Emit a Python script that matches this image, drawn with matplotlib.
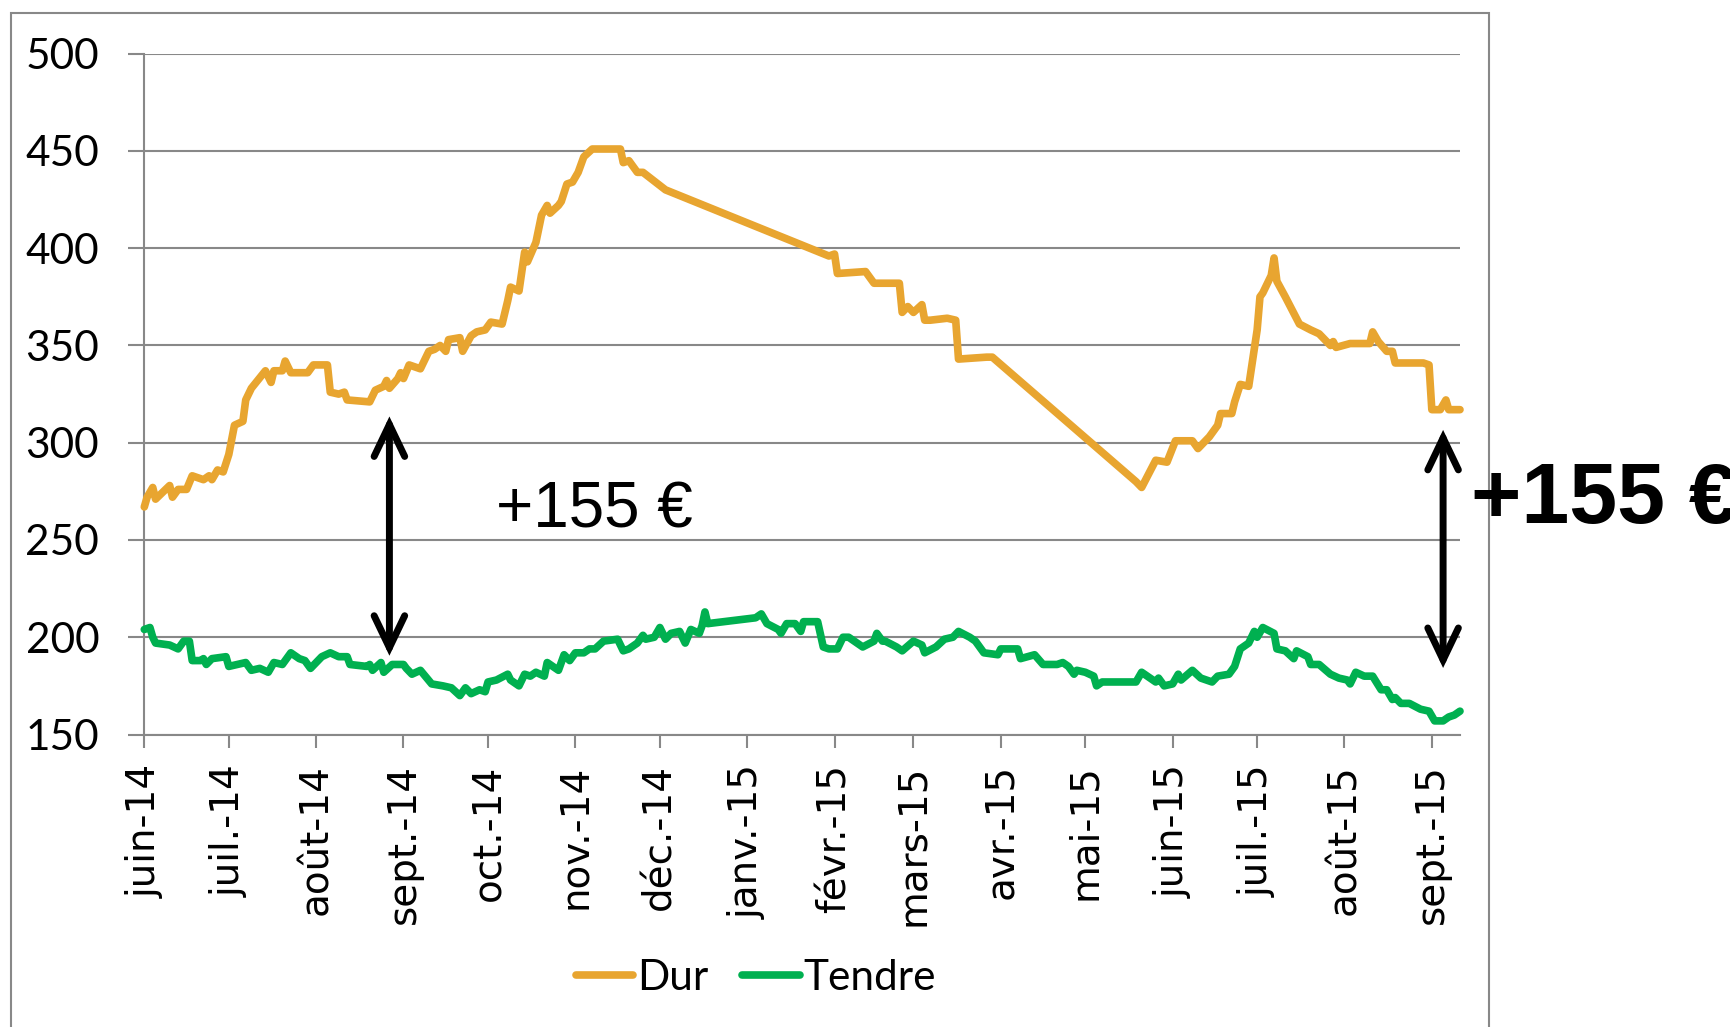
import matplotlib
matplotlib.use("Agg")
import matplotlib.pyplot as plt
from matplotlib.patches import Rectangle
import pandas as pd

# Durum ("Dur") wheat price, EUR/t
dur_dates = [
    "2014-06-01", "2014-06-02", "2014-06-04", "2014-06-05", "2014-06-10", "2014-06-11",
    "2014-06-13", "2014-06-16", "2014-06-18", "2014-06-22", "2014-06-24", "2014-06-25",
    "2014-06-27", "2014-06-29", "2014-07-01", "2014-07-03", "2014-07-06", "2014-07-07",
    "2014-07-09", "2014-07-14", "2014-07-16", "2014-07-17", "2014-07-20", "2014-07-21",
    "2014-07-23", "2014-07-29", "2014-07-31", "2014-08-05", "2014-08-06", "2014-08-09",
    "2014-08-11", "2014-08-12", "2014-08-20", "2014-08-22", "2014-08-25", "2014-08-26",
    "2014-08-27", "2014-08-30", "2014-08-31", "2014-09-01", "2014-09-03", "2014-09-07",
    "2014-09-10", "2014-09-12", "2014-09-14", "2014-09-16", "2014-09-17", "2014-09-21",
    "2014-09-22", "2014-09-25", "2014-09-27", "2014-09-30", "2014-10-02", "2014-10-06",
    "2014-10-08", "2014-10-09", "2014-10-12", "2014-10-14", "2014-10-15", "2014-10-18",
    "2014-10-20", "2014-10-22", "2014-10-23", "2014-10-26", "2014-10-27", "2014-10-29",
    "2014-10-31", "2014-11-02", "2014-11-04", "2014-11-07", "2014-11-17", "2014-11-18",
    "2014-11-20", "2014-11-23", "2014-11-25", "2014-12-03", "2015-01-30", "2015-02-01",
    "2015-02-02", "2015-02-12", "2015-02-15", "2015-02-24", "2015-02-25", "2015-02-27",
    "2015-03-01", "2015-03-04", "2015-03-05", "2015-03-07", "2015-03-13", "2015-03-16",
    "2015-03-17", "2015-03-27", "2015-03-29", "2015-05-19", "2015-05-21", "2015-05-26",
    "2015-05-30", "2015-06-02", "2015-06-08", "2015-06-10", "2015-06-14", "2015-06-17",
    "2015-06-18", "2015-06-22", "2015-06-23", "2015-06-25", "2015-06-28", "2015-07-01",
    "2015-07-02", "2015-07-03", "2015-07-06", "2015-07-07", "2015-07-08", "2015-07-11",
    "2015-07-16", "2015-07-20", "2015-07-23", "2015-07-27", "2015-07-28", "2015-07-29",
    "2015-08-03", "2015-08-10", "2015-08-11", "2015-08-13", "2015-08-16", "2015-08-18",
    "2015-08-19", "2015-08-29", "2015-08-31", "2015-09-01", "2015-09-04", "2015-09-06",
    "2015-09-07", "2015-09-11",
]
dur_values = [
    267, 272, 277, 271, 278, 272,
    276, 276, 283, 281, 283, 281,
    286, 285, 294, 309, 311, 322,
    328, 337, 331, 337, 337, 342,
    336, 336, 340, 340, 326, 325,
    326, 322, 321, 327, 329, 332,
    328, 333, 336, 333, 340, 338,
    347, 348, 350, 347, 353, 354,
    347, 355, 357, 358, 362, 361,
    373, 380, 378, 398, 393, 403,
    417, 422, 418, 422, 424, 433,
    434, 439, 447, 451, 451, 444,
    445, 439, 439, 430, 396, 397,
    387, 388, 382, 382, 367, 370,
    367, 371, 363, 363, 364, 363,
    343, 344, 344, 280, 277, 291,
    290, 301, 301, 297, 303, 309,
    315, 315, 321, 330, 329, 358,
    375, 377, 386, 395, 383, 375,
    361, 358, 356, 350, 352, 349,
    351, 351, 357, 352, 347, 347,
    341, 341, 340, 317, 317, 322,
    317, 317,
]

# Soft ("Tendre") wheat price, EUR/t
tendre_dates = [
    "2014-06-01", "2014-06-03", "2014-06-04", "2014-06-05", "2014-06-10", "2014-06-13",
    "2014-06-15", "2014-06-17", "2014-06-18", "2014-06-21", "2014-06-22", "2014-06-23",
    "2014-06-25", "2014-06-30", "2014-07-01", "2014-07-07", "2014-07-09", "2014-07-12",
    "2014-07-15", "2014-07-17", "2014-07-20", "2014-07-23", "2014-07-26", "2014-07-28",
    "2014-07-30", "2014-08-03", "2014-08-06", "2014-08-09", "2014-08-12", "2014-08-13",
    "2014-08-19", "2014-08-20", "2014-08-21", "2014-08-24", "2014-08-25", "2014-08-28",
    "2014-09-01", "2014-09-02", "2014-09-04", "2014-09-07", "2014-09-11", "2014-09-15",
    "2014-09-18", "2014-09-21", "2014-09-23", "2014-09-25", "2014-09-28", "2014-09-30",
    "2014-10-01", "2014-10-04", "2014-10-08", "2014-10-09", "2014-10-12", "2014-10-14",
    "2014-10-16", "2014-10-18", "2014-10-21", "2014-10-22", "2014-10-26", "2014-10-28",
    "2014-10-30", "2014-11-01", "2014-11-04", "2014-11-06", "2014-11-08", "2014-11-11",
    "2014-11-16", "2014-11-18", "2014-11-20", "2014-11-23", "2014-11-25", "2014-11-26",
    "2014-11-29", "2014-12-01", "2014-12-03", "2014-12-05", "2014-12-08", "2014-12-10",
    "2014-12-12", "2014-12-15", "2014-12-16", "2014-12-17", "2014-12-18", "2015-01-04",
    "2015-01-06", "2015-01-08", "2015-01-12", "2015-01-13", "2015-01-15", "2015-01-18",
    "2015-01-20", "2015-01-21", "2015-01-26", "2015-01-28", "2015-01-30", "2015-02-02",
    "2015-02-04", "2015-02-06", "2015-02-11", "2015-02-15", "2015-02-16", "2015-02-18",
    "2015-02-19", "2015-02-23", "2015-02-25", "2015-03-01", "2015-03-04", "2015-03-05",
    "2015-03-09", "2015-03-12", "2015-03-15", "2015-03-17", "2015-03-21", "2015-03-23",
    "2015-03-26", "2015-03-31", "2015-04-01", "2015-04-07", "2015-04-08", "2015-04-13",
    "2015-04-16", "2015-04-21", "2015-04-23", "2015-04-25", "2015-04-27", "2015-04-28",
    "2015-05-01", "2015-05-04", "2015-05-05", "2015-05-07", "2015-05-19", "2015-05-21",
    "2015-05-24", "2015-05-26", "2015-05-27", "2015-05-29", "2015-06-01", "2015-06-03",
    "2015-06-04", "2015-06-08", "2015-06-11", "2015-06-15", "2015-06-17", "2015-06-21",
    "2015-06-23", "2015-06-25", "2015-06-28", "2015-06-30", "2015-07-01", "2015-07-03",
    "2015-07-07", "2015-07-08", "2015-07-11", "2015-07-14", "2015-07-15", "2015-07-19",
    "2015-07-20", "2015-07-23", "2015-07-27", "2015-07-30", "2015-08-02", "2015-08-03",
    "2015-08-05", "2015-08-08", "2015-08-11", "2015-08-14", "2015-08-16", "2015-08-18",
    "2015-08-19", "2015-08-21", "2015-08-24", "2015-08-28", "2015-08-31", "2015-09-02",
    "2015-09-05", "2015-09-07", "2015-09-09", "2015-09-11",
]
tendre_values = [
    204, 205, 200, 197, 196, 194,
    198, 198, 188, 188, 189, 186,
    189, 190, 185, 187, 183, 184,
    182, 187, 186, 192, 189, 188,
    184, 190, 192, 190, 190, 186,
    185, 186, 183, 187, 182, 186,
    186, 184, 181, 183, 176, 175,
    174, 170, 174, 171, 173, 172,
    177, 178, 181, 178, 175, 181,
    180, 182, 180, 187, 183, 191,
    188, 192, 192, 194, 194, 198,
    199, 193, 194, 197, 201, 199,
    200, 205, 199, 202, 203, 197,
    204, 202, 206, 213, 207, 210,
    212, 207, 204, 202, 207, 207,
    203, 208, 208, 195, 194, 194,
    200, 200, 195, 198, 202, 198,
    198, 195, 193, 198, 196, 192,
    195, 199, 200, 203, 200, 198,
    192, 191, 194, 194, 189, 191,
    186, 186, 187, 185, 181, 183,
    182, 180, 175, 177, 177, 182,
    179, 177, 179, 175, 176, 181,
    178, 183, 179, 177, 180, 181,
    185, 194, 197, 203, 200, 205,
    202, 194, 193, 189, 193, 190,
    186, 186, 181, 179, 178, 176,
    182, 180, 180, 173, 173, 168,
    169, 166, 166, 163, 162, 157,
    157, 159, 160, 162,
]

month_starts = [
    "2014-06-01", "2014-07-01", "2014-08-01", "2014-09-01", "2014-10-01",
    "2014-11-01", "2014-12-01", "2015-01-01", "2015-02-01", "2015-03-01",
    "2015-04-01", "2015-05-01", "2015-06-01", "2015-07-01", "2015-08-01",
    "2015-09-01",
]
month_labels = [
    "juin-14", "juil.-14", "août-14", "sept.-14", "oct.-14", "nov.-14",
    "déc.-14", "janv.-15", "févr.-15", "mars-15", "avr.-15", "mai-15",
    "juin-15", "juil.-15", "août-15", "sept.-15",
]
y_ticks = [150, 200, 250, 300, 350, 400, 450, 500]

# Spread annotations: (date, top, bottom) of each double arrow
gap_arrows = [("2014-08-27", 313.5, 190.5), ("2015-09-05", 306.6, 184.2)]
gap_text = "+155 €"

ORANGE = "#E8A530"
GREEN = "#00B050"
GREY = "#888888"

fig = plt.figure(figsize=(17.3, 10.27), dpi=100)
fig.patch.set_facecolor("white")

# Outer chart frame
fig.add_artist(Rectangle((10.5 / 1730, -0.1), (1489 - 10.5) / 1730, 1.1 - 12.5 / 1027,
                         transform=fig.transFigure, fill=False, ec=GREY, lw=1.5, zorder=0))

ax = fig.add_axes([144.3 / 1730, 1 - 734.5 / 1027, (1460 - 144.3) / 1730, (734.5 - 53.7) / 1027])

x_dur = pd.to_datetime(dur_dates)
x_ten = pd.to_datetime(tendre_dates)
line_kw = dict(lw=5.5, solid_joinstyle="round", solid_capstyle="round", clip_on=False)
ax.plot(x_dur, dur_values, color=ORANGE, label="Dur", zorder=3, **line_kw)
ax.plot(x_ten, tendre_values, color=GREEN, label="Tendre", zorder=3, **line_kw)

ax.set_xlim(pd.Timestamp("2014-06-01"), pd.Timestamp("2015-09-11"))
ax.set_ylim(150, 500)

ax.set_yticks(y_ticks)
ax.set_yticklabels([str(v) for v in y_ticks], fontfamily="Lato", fontsize=30.5)
ax.set_xticks(pd.to_datetime(month_starts))
ax.set_xticklabels(month_labels, rotation=90, fontfamily="DejaVu Sans", fontsize=28,
                   ha="center", va="top")

ax.grid(axis="y", color=GREY, lw=1.5)
ax.set_axisbelow(True)
for side in ("top", "right"):
    ax.spines[side].set_visible(False)
for side in ("left", "bottom"):
    ax.spines[side].set_color(GREY)
    ax.spines[side].set_linewidth(1.5)
ax.tick_params(axis="y", length=11.5, width=1.5, color=GREY, pad=21)
ax.tick_params(axis="x", length=9.5, width=1.5, color=GREY, pad=12)

for d, top, bottom in gap_arrows:
    xd = pd.Timestamp(d)
    ax.annotate("", xy=(xd, top), xytext=(xd, bottom),
                arrowprops=dict(arrowstyle="<->,head_length=1.15,head_width=0.55",
                                mutation_scale=20, lw=5, color="black",
                                shrinkA=0, shrinkB=0, joinstyle="miter"),
                zorder=4, annotation_clip=False)

ax.text(pd.Timestamp("2014-10-04"), 256.3, gap_text, fontfamily="Liberation Sans",
        fontsize=46, ha="left", va="baseline", color="black", zorder=5)
fig.text(1471 / 1730, 1 - 523 / 1027, gap_text, fontfamily="Liberation Sans",
         fontweight="bold", fontsize=62, ha="left", va="baseline", color="black", zorder=5)

ax.legend(loc="center", bbox_to_anchor=(756 / 1730, 1 - 978 / 1027),
          bbox_transform=fig.transFigure, ncol=2, frameon=False,
          prop={"family": "Lato", "size": 30.5}, handlelength=1.35,
          handletextpad=0.1, columnspacing=0.8)

fig.savefig("out.png", dpi=100, facecolor="white")
